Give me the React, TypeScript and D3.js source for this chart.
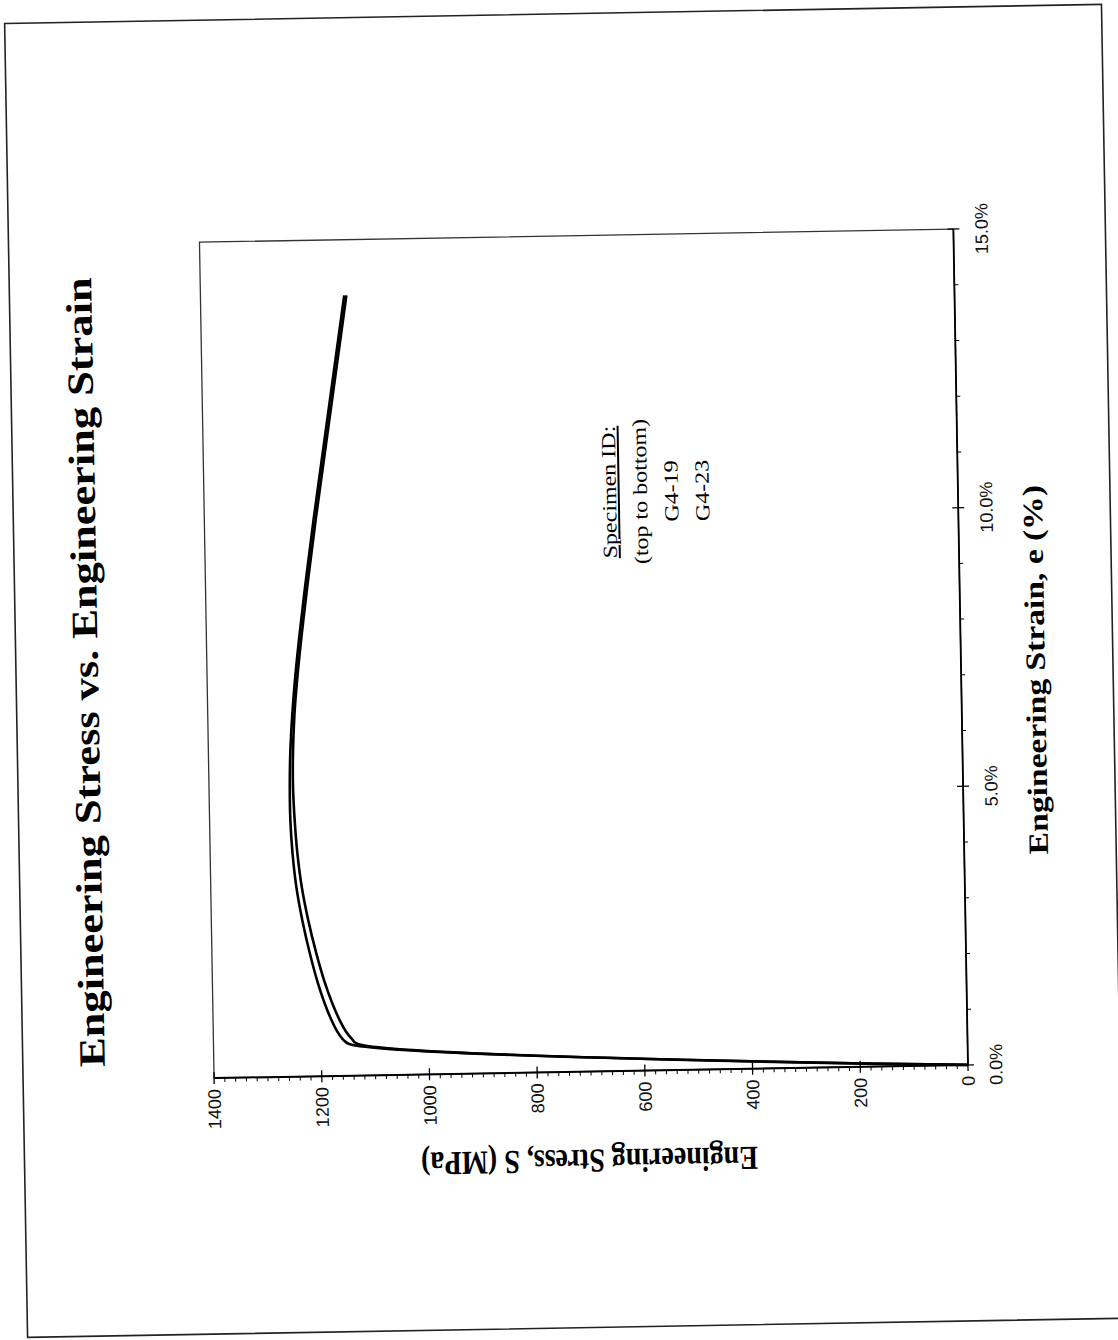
import * as d3 from "d3";

// values (strain in %, stress in MPa)
const strainPct = [0, 0.57, 0.66, 0.8, 1.0, 1.3, 1.7, 2.2, 2.8, 3.4, 4.0, 4.6, 5.2, 5.8, 6.5, 7.2, 8.0, 9.0, 10.0, 11.0, 12.0, 13.0, 14.0];
const stressG419 = [0, 1148, 1160, 1170, 1180, 1192, 1205, 1218, 1231, 1241, 1247, 1250, 1250, 1248, 1243, 1236, 1226, 1212, 1197, 1181, 1165, 1149, 1133];
const stressG423 = [0, 1133, 1143, 1154, 1165, 1178, 1192, 1206, 1220, 1231, 1238, 1242, 1244, 1243, 1239, 1232, 1222, 1208, 1193, 1177, 1161, 1145, 1129];

const stressTicks = [0, 200, 400, 600, 800, 1000, 1200, 1400];
const strainTicks = [0, 5, 10, 15];
const legendLines = ["Specimen ID:", "(top to bottom)", "G4-19", "G4-23"];

const TITLE = "Engineering Stress vs. Engineering Strain";
const STRAIN_TITLE = "Engineering Strain, e (%)";
const STRESS_TITLE = "Engineering Stress, S (MPa)";

const W = 1118;
const H = 1340;
const SKEW = -1; // the scan is a little crooked
const STRETCH = 1.2; // serif text on the page is stretched along its height
const plot = { left: 207, right: 961, top: 236, bottom: 1072 };

const sans = "'Liberation Sans', Arial, sans-serif";
const serif = "'Liberation Serif', 'Times New Roman', serif";

type Pt = { e: number; s: number };

export default function App() {
  const x = d3.scaleLinear().domain([0, 1400]).range([plot.right, plot.left]);
  const y = d3.scaleLinear().domain([0, 15]).range([plot.bottom, plot.top]);

  const line = d3
    .line<Pt>()
    .x((d) => x(d.s))
    .y((d) => y(d.e))
    .curve(d3.curveCatmullRom.alpha(0.5));

  const series = [stressG419, stressG423].map((vals) =>
    vals.map((s, i) => ({ e: strainPct[i], s }))
  );

  const minorStress = d3.range(0, 1401, 20).filter((v) => v % 200 !== 0);
  const minorStrain = d3.range(0, 16, 1).filter((v) => v % 5 !== 0);

  const vtext = (tx: number, ty: number, rot = -90, k = STRETCH) =>
    `translate(${tx},${ty}) scale(1,${k}) rotate(${rot})`;

  return (
    <svg
      width={W}
      height={H}
      style={{ position: "absolute", left: 0, top: 0, background: "#fff" }}
    >
      <rect width={W} height={H} fill="#fff" />
      <g transform={`rotate(${SKEW},${W / 2},${H / 2})`}>
        {/* page edge */}
        <rect x={16} y={14} width={1097} height={1314} fill="none" stroke="#222" strokeWidth={1.6} />

        {/* title */}
        <text
          transform={vtext(85, 664)}
          textAnchor="middle"
          dy="0.35em"
          fontFamily={serif}
          fontWeight="bold"
          fontSize={37}
        >
          {TITLE}
        </text>

        {/* plot frame */}
        <rect
          x={plot.left}
          y={plot.top}
          width={plot.right - plot.left}
          height={plot.bottom - plot.top}
          fill="none"
          stroke="#333"
          strokeWidth={1.3}
        />

        {/* stress axis */}
        <line x1={plot.left} x2={plot.right} y1={plot.bottom} y2={plot.bottom} stroke="#000" strokeWidth={2} />
        {minorStress.map((v) => (
          <line key={`ms${v}`} x1={x(v)} x2={x(v)} y1={plot.bottom} y2={plot.bottom + 4} stroke="#000" strokeWidth={1} />
        ))}
        {stressTicks.map((v) => (
          <g key={`s${v}`}>
            <line x1={x(v)} x2={x(v)} y1={plot.bottom - 6} y2={plot.bottom + 6} stroke="#000" strokeWidth={1.3} />
            <text
              transform={vtext(x(v), plot.bottom + 11, -90, 1)}
              textAnchor="end"
              dy="0.35em"
              fontFamily={sans}
              fontSize={18}
              fill="#111"
            >
              {v}
            </text>
          </g>
        ))}

        {/* strain axis */}
        <line x1={plot.right} x2={plot.right} y1={plot.top} y2={plot.bottom} stroke="#000" strokeWidth={1.8} />
        {minorStrain.map((v) => (
          <line key={`me${v}`} x1={plot.right} x2={plot.right + 4} y1={y(v)} y2={y(v)} stroke="#000" strokeWidth={1} />
        ))}
        {strainTicks.map((v) => (
          <g key={`e${v}`}>
            <line x1={plot.right - 6} x2={plot.right + 6} y1={y(v)} y2={y(v)} stroke="#000" strokeWidth={1.3} />
            <text
              transform={vtext(plot.right + 28, y(v), -90, 1)}
              textAnchor="middle"
              dy="0.35em"
              fontFamily={sans}
              fontSize={18}
              fill="#111"
            >
              {`${v.toFixed(1)}%`}
            </text>
          </g>
        ))}

        {/* axis titles */}
        <text
          transform={vtext(1035, 678)}
          textAnchor="middle"
          dy="0.35em"
          fontFamily={serif}
          fontWeight="bold"
          fontSize={28}
        >
          {STRAIN_TITLE}
        </text>
        <text
          transform={vtext(581, 1162, 180)}
          textAnchor="middle"
          dy="0.35em"
          fontFamily={serif}
          fontWeight="bold"
          fontSize={28}
        >
          {STRESS_TITLE}
        </text>

        {/* curves */}
        {series.map((pts, i) => (
          <path key={i} d={line(pts) ?? ""} fill="none" stroke="#000" strokeWidth={2.6} strokeLinejoin="round" />
        ))}

        {/* legend note */}
        {legendLines.map((t, i) => (
          <text
            key={t}
            transform={vtext(612 + i * 31, 493)}
            textAnchor="middle"
            dy="0.35em"
            fontFamily={serif}
            fontSize={20}
            style={i === 0 ? { textDecoration: "underline" } : undefined}
          >
            {t}
          </text>
        ))}
      </g>
    </svg>
  );
}
